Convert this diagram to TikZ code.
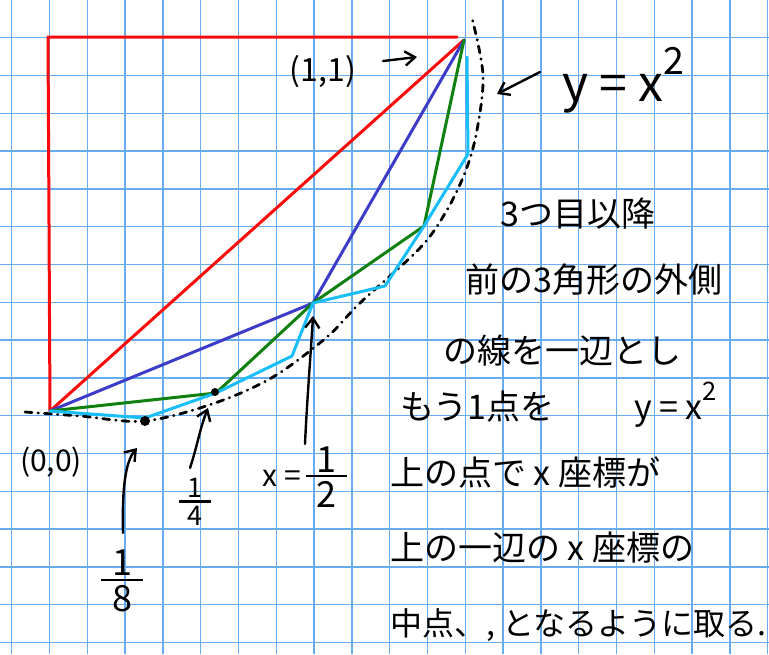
\RequirePackage{fix-cm}
\documentclass[tikz,border=0pt]{standalone}
\usepackage{fontspec}
\newfontfamily\jpfont{Noto Sans CJK JP}
\usetikzlibrary{arrows.meta}

\definecolor{gridblue}{RGB}{104,172,240}
\definecolor{penred}{RGB}{250,10,10}
\definecolor{penblue}{RGB}{60,60,200}
\definecolor{pengreen}{RGB}{16,128,16}
\definecolor{pencyan}{RGB}{24,190,250}

% stacked hand-style fraction
\newcommand{\hfrac}[2]{\ensuremath{\vcenter{\halign{\hbox to 1.15em{\hfil##\hfil}\cr #1\cr
  \noalign{\vskip3pt\hrule height 2.4pt\vskip4pt}#2\cr}}}}
\newcommand{\sqr}{\raisebox{0.55em}{\scalebox{0.75}{2}}}

\begin{document}
\begin{tikzpicture}[
    x=1pt, y=-1pt,
    font=\jpfont,
    sq/.style={gridblue, line width=1.3pt},
    chord/.style={line width=3pt, line join=round, line cap=round},
    parab/.style={line width=2.8pt, line cap=round, dash pattern=on 7pt off 6pt on 0.5pt off 6pt},
    note/.style={anchor=west, inner sep=0pt, font=\jpfont\fontsize{34}{38}\selectfont},
    hand/.style={inner sep=0pt, font=\jpfont\fontsize{30}{34}\selectfont},
    ptr/.style={-{Straight Barb[length=3.5mm,width=5mm]}, line width=2.4pt, line cap=round}
  ]

  % Paper and grid
  \fill[white] (0,0) rectangle (769,654);
  \useasboundingbox (0,0) rectangle (769,654);
  \foreach \k in {0,...,20}
    \draw[sq] ({11.7+37.8*\k},0) -- ++(0,654);
  \foreach \j in {1,...,17}
    \draw[sq] (0,{-0.1+37.8*\j}) -- ++(769,0);

  % Points of the polygons
  \coordinate (o) at (50,411);
  \coordinate (t) at (464,40);
  \coordinate (c) at (48,37);
  \coordinate (m) at (313,303);
  \coordinate (q1) at (216,393);
  \coordinate (q3) at (424,226);
  \coordinate (e1) at (145,418);
  \coordinate (e3) at (292,356);
  \coordinate (e5) at (385,286);
  \coordinate (e7) at (468,154);
  \coordinate (ce) at (467,57);

  % Curve y = x^2
  \draw[parab] plot[smooth, tension=0.55] coordinates {(25,412) (80,416) (145,421) (215,403)
    (273,377) (327,337) (360,303) (420,248) (447,210) (466,170) (477,130) (483,75) (472,18)};

  % Triangles
  \draw[chord, penred] (o) -- (c) -- (457,37);
  \draw[chord, penred] (o) -- (t);
  \draw[chord, penblue] (o) -- (m) -- (t);
  \draw[chord, pengreen] (o) -- (q1) -- (m) -- (q3) -- (t);
  \draw[chord, pencyan] (o) -- (e1) -- (q1) -- (e3) -- (m) -- (e5) -- (q3) -- (e7) -- (ce);

  % Dots on the curve
  \fill (145,421) circle (5pt);
  \fill (215,392) circle (4pt);

  % Labels
  \node[hand, font=\jpfont\fontsize{32}{36}\selectfont] (one) at (323,72) {(1,1)};
  \node[hand] (zero) at (51,462) {(0,0)};
  \node[hand, font=\jpfont\fontsize{50}{56}\selectfont] (curve) at (623,80) {y = x\sqr};
  \node[hand, font=\jpfont\fontsize{36}{40}\selectfont] (eighth) at (122,581) {\hfrac{1}{8}};
  \node[hand, font=\jpfont\fontsize{27}{30}\selectfont] (quarter) at (195,502) {\hfrac{1}{4}};
  \node[hand] (half) at (305,477) {x =\,{\fontsize{36}{40}\selectfont\hfrac{1}{2}}};

  % Pointers
  \coordinate (onea) at (383,61);
  \coordinate (oneb) at (417,57);
  \coordinate (curvea) at (540,72);
  \coordinate (curveb) at (497,94);
  \coordinate (eighta) at (123,533);
  \coordinate (eightb) at (137,448);
  \coordinate (quartera) at (190,468);
  \coordinate (quarterb) at (208,408);
  \coordinate (halfa) at (305,444);
  \coordinate (halfb) at (313,316);
  \draw[ptr] (onea) -- (oneb);
  \draw[ptr] (curvea) -- (curveb);
  \draw[ptr] (eighta) .. controls (122,490) and (125,462) .. (eightb);
  \draw[ptr] (quartera) .. controls (197,447) and (200,428) .. (quarterb);
  \draw[ptr] (halfa) .. controls (307,400) and (311,350) .. (halfb);

  % Explanation
  \node[note] (l1) at (500,214) {3つ目以降};
  \node[note] (l2) at (465,280) {前の3角形の外側};
  \node[note] (l3) at (443,351) {の線を一辺とし};
  \node[note] (l4) at (400,405) {もう1点を\hspace{80pt}y = x\sqr};
  \node[note] (l5) at (390,472) {上の点で x 座標が};
  \node[note] (l6) at (390,548) {上の一辺の x 座標の};
  \node[note, font=\jpfont\fontsize{32}{36}\selectfont] (l7) at (390,625) {中点、, となるように取る.};

\end{tikzpicture}
\end{document}
